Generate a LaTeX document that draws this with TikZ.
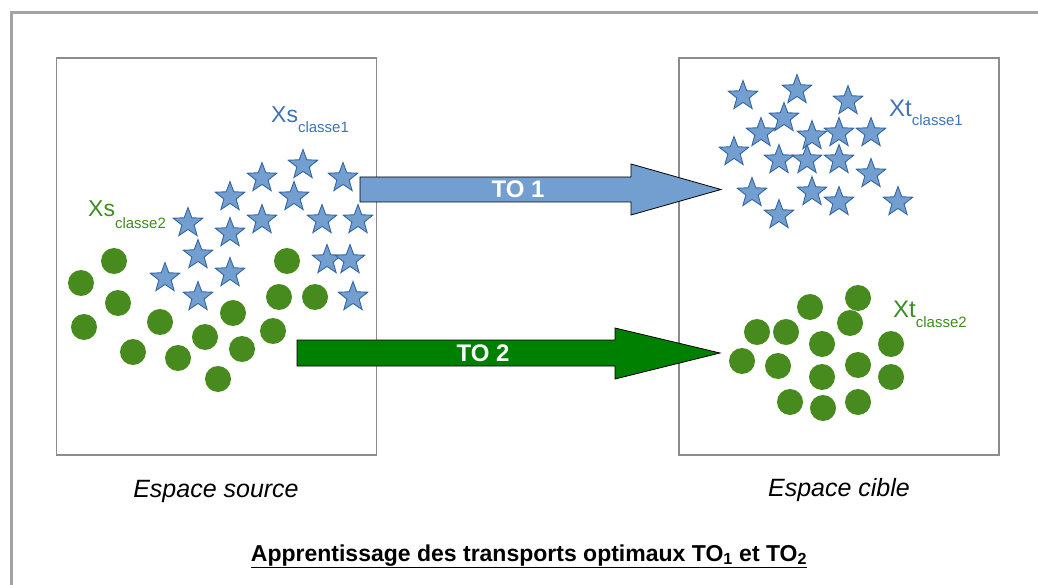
\documentclass[tikz,border=0pt]{standalone}
\usepackage{fontspec}
\setmainfont{Liberation Sans}
\usetikzlibrary{shapes.geometric,positioning}
\definecolor{bleuetoile}{HTML}{729FCF}
\definecolor{bordetoile}{HTML}{3465A4}
\definecolor{vertpoint}{HTML}{478A1E}
\definecolor{vertfleche}{HTML}{008000}
\definecolor{bleutexte}{HTML}{3F73B5}
\definecolor{verttexte}{HTML}{3D8C1E}
\definecolor{cadre}{HTML}{8C8C8C}
\begin{document}
\begin{tikzpicture}[
  x=1pt, y=-1pt,
  espace/.style={draw=cadre, line width=1.6pt, minimum width=320pt, minimum height=397pt, inner sep=0pt},
  etoile/.style={star, star points=5, star point ratio=2.4, fill=bleuetoile, draw=bordetoile, line width=0.9pt, minimum size=31pt, inner sep=0pt},
  point/.style={circle, fill=vertpoint, minimum size=26pt, inner sep=0pt},
  legende/.style={anchor=base, font=\fontsize{25}{28}\selectfont\itshape},
  nomto/.style={text=white, font=\fontsize{24}{26}\selectfont\bfseries, inner sep=0pt},
  fleche/.style={draw=black, line width=0.8pt, line join=miter}
]
\useasboundingbox (0,0) rectangle (1038,585);
% cadre exterieur
\draw[cadre!80, line width=3pt] (11,590) -- (11,13) -- (1045,13);
% les deux espaces
\node[espace] (src) at (216.5,256.5) {};
\node[espace] (cible) at (839,256.5) {};
\node[legende] (lsrc) at (216,497) {Espace source};
\node[legende] (lcible) at (839,496) {Espace cible};
% fleches de transport
\draw[fleche, fill=bleuetoile] (360,177) -- (631,177) -- (631,164) -- (721,189.5) -- (631,215) -- (631,202) -- (360,202) -- cycle;
\node[nomto] (to1) at (518,189.5) {TO 1};
\draw[fleche, fill=vertfleche] (297,340) -- (615,340) -- (615,328) -- (720,353) -- (615,379) -- (615,366) -- (297,366) -- cycle;
\node[nomto] (to2) at (483,353) {TO 2};
% source, classe 1
\foreach [count=\i] \x/\y in {303/165,262/178,343/178,230/197,294/197,262/220,322/220,358/220,188/223,230/233,198/255,327/260,350/260,165/278,230/273,198/297,353/297}
  \node[etoile] (s\i) at (\x,\y) {};
% source, classe 2
\foreach [count=\i] \x/\y in {114/261,81/283,118/303,84/327,160/322,133/352,178/358,205/337,233/313,242/349,218/379,273/331,279/297,287/261,315/297}
  \node[point] (c\i) at (\x,\y) {};
% cible, classe 1
\foreach [count=\i] \x/\y in {743/96,797/90,848/101,784/118,761/133,812/136,839/133,871/133,734/152,779/160,807/160,839/160,871/174,752/193,812/192,839/202,898/202,779/215}
  \node[etoile] (t\i) at (\x,\y) {};
% cible, classe 2
\foreach [count=\i] \x/\y in {858/298,810/307,850/323,757/332,786/332,822/344,891/344,742/361,778/366,858/365,822/377,891/377,790/402,823/408,858/402}
  \node[point] (u\i) at (\x,\y) {};
% noms des classes
\node[anchor=base west, inner sep=0pt, text=bleutexte] (xs1) at (271,123) {\fontsize{23}{26}\selectfont Xs\raisebox{-10pt}{\fontsize{15}{17}\selectfont classe1}};
\node[anchor=base west, inner sep=0pt, text=verttexte] (xs2) at (88,217) {\fontsize{23}{26}\selectfont Xs\raisebox{-12pt}{\fontsize{15}{17}\selectfont classe2}};
\node[anchor=base west, inner sep=0pt, text=bleutexte] (xt1) at (889,117) {\fontsize{24}{26}\selectfont Xt\raisebox{-9pt}{\fontsize{15}{17}\selectfont classe1}};
\node[anchor=base west, inner sep=0pt, text=verttexte] (xt2) at (893,317) {\fontsize{24}{26}\selectfont Xt\raisebox{-10pt}{\fontsize{15}{17}\selectfont classe2}};
% titre
\node[anchor=base, font=\fontsize{23}{26}\selectfont\bfseries] (titre) at (529,561) {\underline{Apprentissage des transports optimaux TO\textsubscript{1} et TO\textsubscript{2}}};
\end{tikzpicture}
\end{document}
